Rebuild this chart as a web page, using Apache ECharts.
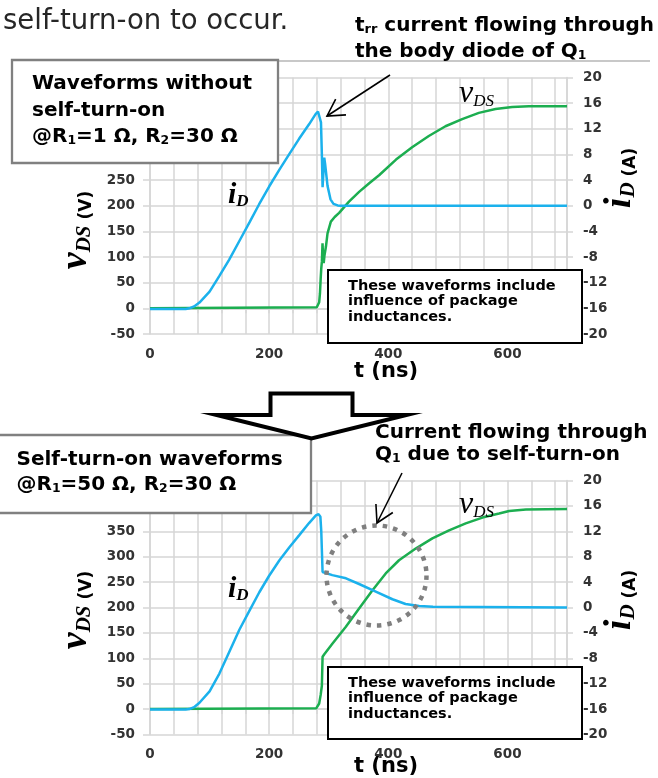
<!DOCTYPE html>
<html><head><meta charset="utf-8">
<script src="https://cdn.jsdelivr.net/npm/echarts@6/dist/echarts.min.js"></script>
<style>html,body{margin:0;padding:0;background:#fff;}#c{width:658px;height:778px;}</style>
</head><body><div id="c"></div>
<script>
// ---- axis ticks ----
const xLabelValues = [0, 200, 400, 600];          // t (ns) labels shown
const xRange = [0, 700], xStep = 40;
const vdsRange = [-50, 450], vdsStep = 50;         // left axis (V)
const idRange = [-20, 20], idStep = 4;             // right axis (A)

// ---- top chart: without self-turn-on (R1=1 Ω, R2=30 Ω) ----
const topVds = [[0,0],[280,2],[282,4],[284,12],[285.3,29],[286.5,58],[287.5,78],[288.6,92],[289.6,127],[290.6,98],[291.6,88],[293,104],[295.3,120],[298,146],[303.6,169],[310,178],[317.5,186],[334,208],[351,227],[368,244],[385,260],[413,290],[440,314],[468,336],[496,355],[524,369],[552,381],[580,388.5],[608,392.5],[636,394],[700,394]];
const topId = [[0,-16.1],[60,-16.1],[66,-16.0],[74,-15.7],[83,-15.1],[100,-13.4],[116,-11.0],[133,-8.4],[150,-5.5],[167,-2.6],[183,0.2],[200,3.0],[217,5.6],[234,8.1],[250,10.4],[267,12.7],[278,14.3],[282,14.7],[285,14.4],[287,13.0],[288.5,8],[289.7,2.9],[291,5],[292.5,7.5],[294,6.5],[298,3.1],[303,1.0],[308,0.3],[315,0.05],[320,0],[700,0]];

// ---- bottom chart: self-turn-on (R1=50 Ω, R2=30 Ω) ----
const botVds = [[0,0],[279,1.5],[282,5],[284,11],[286.5,28],[288.5,46],[289.7,103],[292.6,108],[306.4,129],[328.8,162],[351,198],[373.5,234],[395.7,267],[418,293],[446,316],[474,336],[502,352],[530,365.6],[558,377],[586,385],[603,390],[631,393],[700,393.7]];
const botId = [[0,-16.05],[60,-16.05],[66,-16.0],[74,-15.7],[83,-15.0],[100,-13.2],[116.5,-10.4],[133,-7.0],[150,-3.5],[167,-0.5],[183.5,2.4],[200,5.0],[217,7.4],[234,9.5],[250.6,11.4],[267,13.3],[278.5,14.5],[283,14.7],[286,14.3],[287.5,12],[289.7,5.6],[291.4,5.3],[292.5,5.4],[306,5.1],[329,4.6],[351,3.7],[379,2.5],[407,1.3],[429,0.55],[452,0.24],[475,0.1],[700,0]];

const SANS = '"DejaVu Sans", Verdana, sans-serif';
const SERIF = '"Liberation Serif", "Times New Roman", serif';
const GRID = '#d6d6d6', LBL = '#333333';
const BLUE = '#1bb1ec', GREEN = '#1cae50';

const chart = echarts.init(document.getElementById('c'), null, {renderer: 'canvas'});

function xAx(i) {
  return {
    type: 'value', gridIndex: i, min: xRange[0], max: xRange[1], interval: xStep,
    axisLine: {show: true, lineStyle: {color: GRID, width: 1.5}},
    axisTick: {show: true, length: 5, lineStyle: {color: GRID, width: 1.5}},
    splitLine: {show: true, lineStyle: {color: GRID, width: 1.5}},
    axisLabel: {margin: 13, color: LBL, fontFamily: SANS, fontWeight: 'bold', fontSize: 13.5,
      formatter: v => xLabelValues.indexOf(v) >= 0 ? String(v) : ''}
  };
}
function yLeft(i) {
  return {
    type: 'value', gridIndex: i, position: 'left', min: vdsRange[0], max: vdsRange[1], interval: vdsStep,
    axisLine: {show: true, lineStyle: {color: GRID, width: 1.5}},
    axisTick: {show: true, length: 7, lineStyle: {color: GRID, width: 1.5}},
    splitLine: {show: true, lineStyle: {color: GRID, width: 1.5}},
    axisLabel: {margin: 15, color: LBL, fontFamily: SANS, fontWeight: 'bold', fontSize: 13.5}
  };
}
function yRight(i) {
  return {
    type: 'value', gridIndex: i, position: 'right', min: idRange[0], max: idRange[1], interval: idStep,
    axisLine: {show: true, lineStyle: {color: GRID, width: 1.5}},
    axisTick: {show: true, length: 6, lineStyle: {color: GRID, width: 1.5}},
    splitLine: {show: false},
    axisLabel: {margin: 16, color: LBL, fontFamily: SANS, fontWeight: 'bold', fontSize: 13.5}
  };
}
function line(data, xi, yi, color, z) {
  return {type: 'line', xAxisIndex: xi, yAxisIndex: yi, data: data, symbol: 'none', showSymbol: false,
    smooth: false, lineStyle: {color: color, width: 2.5}, itemStyle: {color: color}, z: z, silent: true};
}

// ---- annotation helpers ----
const bold = (fs, extra) => Object.assign({fontFamily: SANS, fontWeight: 'bold', fontSize: fs, fill: '#000'}, extra || {});
function rtext(x, y, text, rich, opts) {
  opts = opts || {};
  return Object.assign({type: 'text', x: x, y: y, z: 120,
    style: {text: text, rich: rich, textAlign: opts.align || 'left', verticalAlign: 'middle', textVerticalAlign: 'middle',
      fill: '#000'}}, opts.rotation ? {rotation: opts.rotation} : {});
}
function boxLine(x, y, str, fs) {
  const parts = str.split(/(_\d)/).filter(s => s.length);
  const t = parts.map(p => p[0] === '_' ? '{s|' + p.slice(1) + '}' : '{b|' + p + '}').join('');
  return rtext(x, y, t, {
    b: bold(fs, {verticalAlign: 'bottom', lineHeight: fs}),
    s: bold(fs * 0.62, {verticalAlign: 'bottom', lineHeight: fs * 0.4})
  });
}
function rect(x, y, w, h, stroke, lw) {
  return {type: 'rect', z: 110, shape: {x: x, y: y, width: w, height: h}, style: {fill: '#fff', stroke: stroke, lineWidth: lw}};
}
function arrow(x1, y1, x2, y2) {
  const a = Math.atan2(y1 - y2, x1 - x2), L = 19, h = 0.52;
  return [
    {type: 'line', z: 120, shape: {x1: x1, y1: y1, x2: x2, y2: y2}, style: {stroke: '#000', lineWidth: 1.6}},
    {type: 'polyline', z: 120, shape: {points: [[x2 + L * Math.cos(a + h), y2 + L * Math.sin(a + h)], [x2, y2], [x2 + L * Math.cos(a - h), y2 + L * Math.sin(a - h)]]},
      style: {stroke: '#000', lineWidth: 1.6, fill: null}}
  ];
}
const nameRich = {
  v: {fontFamily: SERIF, fontStyle: 'italic', fontWeight: 'bold', fontSize: 38, fill: '#000', verticalAlign: 'bottom', lineHeight: 36},
  s: {fontFamily: SERIF, fontStyle: 'italic', fontWeight: 'bold', fontSize: 21, fill: '#000', verticalAlign: 'bottom', lineHeight: 14},
  u: {fontFamily: SANS, fontWeight: 'bold', fontSize: 17, fill: '#000', verticalAlign: 'bottom', lineHeight: 20}
};
function vdsName(x, y) {
  return rtext(x, y, '{v|v}{s|DS}{u| (V)}', nameRich, {align: 'center', rotation: Math.PI / 2});
}
function idName(x, y) {
  return rtext(x, y, '{v|i}{s|D}{u| (A)}', nameRich, {align: 'center', rotation: Math.PI / 2});
}
function vdsLabel(x, y) {
  return rtext(x, y, '{v|v}{s|DS}', {
    v: {fontFamily: SERIF, fontStyle: 'italic', fontSize: 32, fill: '#000', verticalAlign: 'bottom', lineHeight: 30},
    s: {fontFamily: SERIF, fontStyle: 'italic', fontSize: 17, fill: '#000', verticalAlign: 'bottom', lineHeight: 11}
  });
}
function idLabel(x, y) {
  return rtext(x, y, '{v|i}{s|D}', {
    v: {fontFamily: SERIF, fontStyle: 'italic', fontWeight: 'bold', fontSize: 30, fill: '#000', verticalAlign: 'bottom', lineHeight: 28},
    s: {fontFamily: SERIF, fontStyle: 'italic', fontWeight: 'bold', fontSize: 17, fill: '#000', verticalAlign: 'bottom', lineHeight: 11}
  });
}
function plain(x, y, str, style) {
  return {type: 'text', x: x, y: y, z: 120, style: Object.assign({text: str, textAlign: 'left', verticalAlign: 'middle', textVerticalAlign: 'middle', fill: '#000'}, style)};
}

const graphics = [].concat(
  [
    plain(3, 22, 'self-turn-on to occur.', {fontFamily: SANS, fontSize: 27.5, fill: '#262626'}),
    {type: 'line', z: 105, shape: {x1: 278, y1: 61, x2: 650, y2: 61}, style: {stroke: '#c8c8c8', lineWidth: 2}},
    rtext(355, 26, '{b|t}{s|rr}{b| current flowing through}', {b: bold(20, {verticalAlign: 'bottom', lineHeight: 20}), s: bold(13, {verticalAlign: 'bottom', lineHeight: 8})}),
    boxLine(355, 52, 'the body diode of Q_1', 20),
    rect(12, 60, 266, 103, '#808080', 2.3),
    boxLine(32, 83.5, 'Waveforms without', 20),
    boxLine(32, 110.5, 'self-turn-on', 20),
    boxLine(32, 137, '@R_1=1 Ω, R_2=30 Ω', 20),
    rect(328, 270, 254, 73, '#000', 2),
    boxLine(348, 286, 'These waveforms include', 14.5),
    boxLine(348, 301.5, 'influence of package', 14.5),
    boxLine(348, 317, 'inductances.', 14.5),
    vdsName(77, 230),
    idName(621, 178),
    plain(386, 372, 't (ns)', {fontFamily: SANS, fontWeight: 'bold', fontSize: 21, textAlign: 'center'}),
    vdsLabel(459, 95),
    idLabel(228, 196)
  ],
  arrow(390, 75, 327, 116),
  [
    rect(-3, 435, 314, 78, '#808080', 2.3),
    {type: 'polygon', z: 115, shape: {points: [[270.5, 393.5], [352.5, 393.5], [352.5, 415], [406.5, 415], [311.5, 438.5], [216.5, 415], [270.5, 415]]},
      style: {fill: '#fff', stroke: '#000', lineWidth: 4, lineJoin: 'miter'}},
    boxLine(16.5, 460, 'Self-turn-on waveforms', 20),
    boxLine(16.5, 484.5, '@R_1=50 Ω, R_2=30 Ω', 20),
    boxLine(375, 432.5, 'Current flowing through', 20),
    boxLine(375, 455, 'Q_1 due to self-turn-on', 20),
    {type: 'circle', z: 108, shape: {cx: 376.5, cy: 575.5, r: 50}, style: {fill: 'rgba(0,0,0,0)', stroke: '#7f7f7f', lineWidth: 4.5, lineDash: [4.5, 6]}},
    rect(328, 667, 254, 72, '#000', 2),
    boxLine(348, 683, 'These waveforms include', 14.5),
    boxLine(348, 698.5, 'influence of package', 14.5),
    boxLine(348, 714, 'inductances.', 14.5),
    vdsName(77, 610),
    idName(621, 600),
    plain(386, 767, 't (ns)', {fontFamily: SANS, fontWeight: 'bold', fontSize: 21, textAlign: 'center'}),
    vdsLabel(459, 506),
    idLabel(228, 590)
  ],
  arrow(402, 473, 377, 523)
);

chart.setOption({
  animation: false,
  backgroundColor: '#fff',
  grid: [
    {left: 150, top: 77.5, width: 417, height: 256.5},
    {left: 150, top: 480.5, width: 417, height: 254}
  ],
  xAxis: [xAx(0), xAx(1)],
  yAxis: [yLeft(0), yRight(0), yLeft(1), yRight(1)],
  series: [
    line(topVds, 0, 0, GREEN, 2),
    line(topId, 0, 1, BLUE, 3),
    line(botVds, 1, 2, GREEN, 2),
    line(botId, 1, 3, BLUE, 3)
  ],
  graphic: graphics
});
</script>
</body></html>
